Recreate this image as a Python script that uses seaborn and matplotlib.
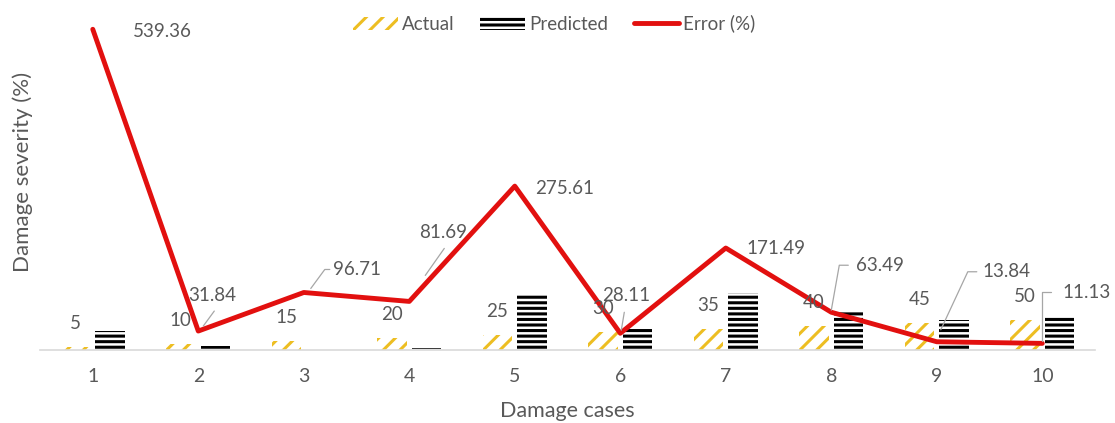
import numpy as np
import pandas as pd
import matplotlib
matplotlib.use('Agg')
import matplotlib.pyplot as plt
import seaborn as sns

# Values
cases = [1, 2, 3, 4, 5, 6, 7, 8, 9, 10]
actual = [5, 10, 15, 20, 25, 30, 35, 40, 45, 50]
predicted = [31.97, 6.82, 0.49, 3.66, 93.90, 38.43, 95.02, 65.40, 51.23, 55.57]
error = [539.36, 31.84, 96.71, 81.69, 275.61, 28.11, 171.49, 63.49, 13.84, 11.13]
error_labels = ['539.36', '31.84', '96.71', '81.69', '275.61',
                '28.11', '171.49', '63.49', '13.84', '11.13']

sns.set_style('white')
plt.rcParams['font.family'] = ['Lato', 'DejaVu Sans']
plt.rcParams['hatch.linewidth'] = 2.2

text_col = '#595959'
red = '#E2100F'
gold = '#EDBE22'

df = pd.DataFrame({
    'case': cases * 2,
    'value': actual + predicted,
    'series': ['Actual'] * len(cases) + ['Predicted'] * len(cases),
})

fig = plt.figure(figsize=(11.15, 4.23), dpi=100)
ax = fig.add_axes([0.0359, 0.1726, 0.9462, 0.7872])

sns.barplot(data=df, x='case', y='value', hue='series', native_scale=True,
            width=0.66, gap=0.15, palette=['white', 'white'], legend=False, ax=ax)

bar_styles = [(gold, '//'), ('black', '---')]
for cont, (col, hatch) in zip(ax.containers, bar_styles):
    for p in cont:
        p.set_facecolor('white')
        p.set_edgecolor(col)
        p.set_linewidth(0)
        p.set_hatch(hatch)

sns.lineplot(x=cases, y=error, color=red, lw=3.5, ax=ax, label='Error (%)')
err_line = ax.lines[-1]

ax.set_xlim(0.5, 10.5)
ax.set_ylim(0, 560)
ax.set_xticks(cases)
ax.set_xticklabels([str(c) for c in cases])
ax.set_yticks([])
for s in ['left', 'right', 'top']:
    ax.spines[s].set_visible(False)
ax.spines['bottom'].set_color('#D9D9D9')
ax.spines['bottom'].set_linewidth(1.2)
ax.tick_params(axis='x', length=0, pad=13, labelsize=14, labelcolor=text_col)

ax.set_xlabel('Damage cases', fontsize=15.5, color=text_col)
ax.xaxis.set_label_coords(0.5, -0.152)
ax.set_ylabel('Damage severity (%)', fontsize=16, color=text_col)
ax.yaxis.set_label_coords(-0.007, 0.535)

# Actual labels above the hatched bars
for p, v in zip(ax.containers[0], actual):
    ax.annotate(str(v), xy=(p.get_x() + p.get_width() / 2, p.get_height()),
                xytext=(0, 24), textcoords='offset pixels',
                ha='center', va='center', fontsize=13.5, color=text_col)

# Error labels: (dx, dy) pixel offsets (y down), alignment, leader path
label_pos = [
    (40, 2, 'left', None),
    (14, -36, 'center', [(5, -5), (16, -20)]),
    (29, -23, 'left', [(7, -4), (21, -23), (26, -23)]),
    (34, -69, 'center', [(16, -26), (35, -53)]),
    (20, 2, 'left', None),
    (6, -38, 'center', [(1, -3), (4, -21)]),
    (21, 0, 'left', None),
    (25, -47, 'left', [(0, -2), (8, -47), (17, -47)]),
    (46, -70, 'left', [(4, -12), (31, -70), (40, -70)]),
    (20, -51, 'left', [(0, -2), (0, -51), (9, -51)]),
]

inv = ax.transData.inverted()
for x, y, lab, (dx, dy, ha, leader) in zip(cases, error, error_labels, label_pos):
    ax.annotate(lab, xy=(x, y), xytext=(dx, -dy), textcoords='offset pixels',
                ha=ha, va='center', fontsize=13.5, color=text_col)
    if leader:
        px, py = ax.transData.transform((x, y))
        verts = np.array([(px + lx, py - ly) for lx, ly in leader])
        dv = inv.transform(verts)
        ax.plot(dv[:, 0], dv[:, 1], color='#A6A6A6', lw=0.9)

fig.legend(handles=[ax.containers[0], ax.containers[1], err_line],
           labels=['Actual', 'Predicted', 'Error (%)'],
           loc='center', bbox_to_anchor=(0.497, 0.944), ncol=3, frameon=False,
           fontsize=13.5, handlelength=2.4, handletextpad=0.2, columnspacing=1.4,
           labelcolor=text_col)
if ax.get_legend():
    ax.get_legend().remove()

fig.savefig('out.png', dpi=100)
